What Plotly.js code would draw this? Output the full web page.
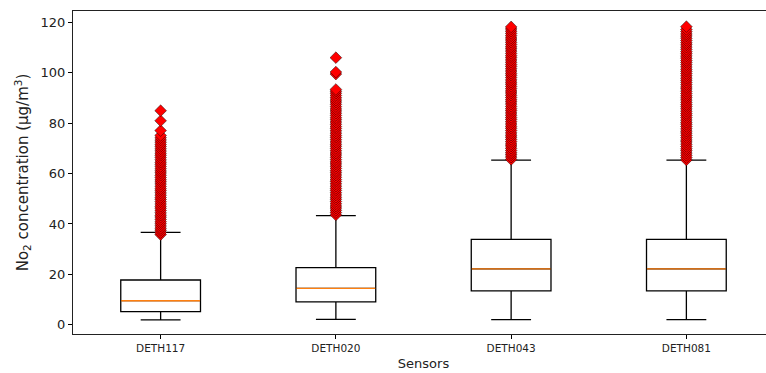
<!DOCTYPE html>
<html>
<head>
<meta charset="utf-8">
<script src="https://cdn.plot.ly/plotly-3.0.1.min.js"></script>
<style>
html, body { margin: 0; padding: 0; overflow: hidden; background: #fff; }
#chart { width: 780px; height: 373px; }
</style>
</head>
<body>
<div id="chart"></div>
<script>
// Sensors (categories)
const sensors = ["DETH117", "DETH020", "DETH043", "DETH081"];
const positions = [1, 2, 3, 4];

// Box statistics (µg/m³)
const q1 = [5.3, 9.1, 13.5, 13.5];
const median = [9.6, 14.5, 22.2, 22.2];
const q3 = [17.8, 22.7, 33.9, 33.9];
const lowerWhisker = [2.0, 2.2, 2.1, 2.1];
const upperWhisker = [36.7, 43.3, 65.3, 65.3];

// Outliers
const outDETH117 = [35.8, 36.6, 37.5, 38.3, 39.2, 40.1, 40.9, 41.8, 42.7, 43.5, 44.4, 45.3, 46.2, 47.0, 47.9, 48.8, 49.7, 50.5, 51.4, 52.3, 53.2, 54.0, 54.9, 55.8, 56.7, 57.5, 58.4, 59.3, 60.2, 61.0, 61.9, 62.8, 63.7, 64.5, 65.4, 66.3, 67.2, 68.0, 68.9, 69.8, 70.7, 71.5, 72.4, 73.3, 74.2, 75.1, 77.0, 80.9, 84.9];
const outDETH020 = [43.6, 44.5, 45.4, 46.3, 47.1, 48.0, 48.9, 49.8, 50.6, 51.5, 52.4, 53.3, 54.1, 55.0, 55.9, 56.8, 57.6, 58.5, 59.4, 60.3, 61.1, 62.0, 62.9, 63.8, 64.6, 65.5, 66.4, 67.3, 68.1, 69.0, 69.9, 70.8, 71.6, 72.5, 73.4, 74.3, 75.1, 76.0, 76.9, 77.8, 78.6, 79.5, 80.4, 81.3, 82.1, 83.0, 83.9, 84.8, 85.6, 86.5, 87.4, 88.3, 89.1, 90.0, 90.9, 91.8, 92.6, 93.3, 99.4, 100.2, 105.9];
const outDETH043 = [65.6, 66.5, 67.4, 68.2, 69.1, 70.0, 70.9, 71.7, 72.6, 73.5, 74.4, 75.2, 76.1, 77.0, 77.9, 78.7, 79.6, 80.5, 81.4, 82.2, 83.1, 84.0, 84.9, 85.7, 86.6, 87.5, 88.4, 89.2, 90.1, 91.0, 91.9, 92.7, 93.6, 94.5, 95.4, 96.2, 97.1, 98.0, 98.9, 99.7, 100.6, 101.5, 102.4, 103.2, 104.1, 105.0, 105.9, 106.7, 107.6, 108.5, 109.4, 110.2, 111.1, 112.0, 112.9, 113.7, 114.6, 115.5, 116.4, 117.3, 118.1];
const outDETH081 = [65.4, 66.3, 67.2, 68.1, 69.0, 69.8, 70.7, 71.6, 72.5, 73.3, 74.2, 75.1, 76.0, 76.8, 77.7, 78.6, 79.5, 80.3, 81.2, 82.1, 83.0, 83.8, 84.7, 85.6, 86.5, 87.3, 88.2, 89.1, 90.0, 90.8, 91.7, 92.6, 93.5, 94.3, 95.2, 96.1, 97.0, 97.8, 98.7, 99.6, 100.5, 101.3, 102.2, 103.1, 104.0, 104.8, 105.7, 106.6, 107.5, 108.3, 109.2, 110.1, 111.0, 111.8, 112.7, 113.6, 114.5, 115.3, 116.2, 117.1, 118.2];
const outliers = [outDETH117, outDETH020, outDETH043, outDETH081];

const traces = [];

// Main boxes
traces.push({
  type: "box",
  x: positions,
  q1: q1, median: median, q3: q3,
  lowerfence: lowerWhisker, upperfence: upperWhisker,
  width: 0.455,
  whiskerwidth: 0.5,
  fillcolor: "rgba(255,255,255,0)",
  line: { color: "#000000", width: 1.3 },
  boxpoints: false,
  hoverinfo: "skip",
  showlegend: false
});

// Orange median lines (collapsed boxes at the median)
traces.push({
  type: "box",
  x: positions,
  q1: median, median: median, q3: median,
  lowerfence: median, upperfence: median,
  width: 0.45,
  whiskerwidth: 0,
  fillcolor: "rgba(255,255,255,0)",
  line: { color: "#ff7f0e", width: 1.4 },
  boxpoints: false,
  hoverinfo: "skip",
  showlegend: false
});

// Outlier markers
outliers.forEach((vals, i) => {
  traces.push({
    type: "scatter",
    mode: "markers",
    x: vals.map(() => positions[i]),
    y: vals,
    marker: {
      symbol: "diamond",
      size: 9,
      color: "#ff0000",
      line: { color: "rgba(0,0,0,0.45)", width: 1 }
    },
    hoverinfo: "skip",
    showlegend: false
  });
});

const layout = {
  width: 780,
  height: 373,
  margin: { l: 72.5, r: 6, t: 11, b: 39 },
  paper_bgcolor: "#ffffff",
  plot_bgcolor: "#ffffff",
  boxmode: "overlay",
  showlegend: false,
  font: { family: "DejaVu Sans", color: "#222" },
  xaxis: {
    range: [0.5, 4.5],
    tickmode: "array",
    tickvals: positions,
    ticktext: sensors,
    ticks: "outside",
    ticklen: 4,
    tickwidth: 1,
    tickcolor: "#000",
    tickfont: { family: "DejaVu Sans", size: 10.5, color: "#222" },
    showgrid: false,
    zeroline: false,
    showline: true,
    linecolor: "#222",
    linewidth: 1,
    mirror: true,
    title: { text: "Sensors", font: { family: "DejaVu Sans", size: 13, color: "#222" }, standoff: 6 }
  },
  yaxis: {
    range: [-3.6, 124.4],
    tickmode: "array",
    tickvals: [0, 20, 40, 60, 80, 100, 120],
    ticks: "outside",
    ticklen: 4,
    tickwidth: 1,
    tickcolor: "#000",
    tickfont: { family: "DejaVu Sans", size: 13, color: "#222" },
    showgrid: false,
    zeroline: false,
    showline: true,
    linecolor: "#222",
    linewidth: 1,
    mirror: true,
    title: { text: "No<sub>2</sub> concentration (μg/m<sup>3</sup>)", font: { family: "DejaVu Sans", size: 15, color: "#222" }, standoff: 8 }
  }
};

Plotly.newPlot("chart", traces, layout, { staticPlot: true, displayModeBar: false });
</script>
</body>
</html>
